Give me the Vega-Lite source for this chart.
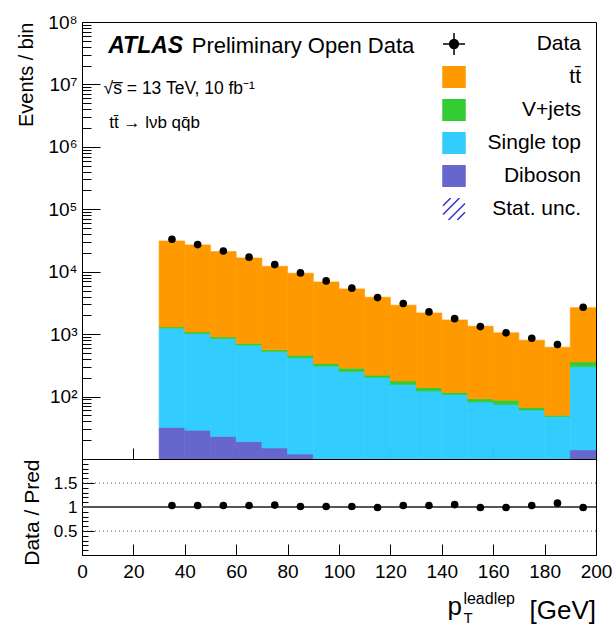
{
  "$schema": "https://vega.github.io/schema/vega-lite/v6.json",
  "background": "white",
  "padding": {"left": 16, "top": 12, "right": 10, "bottom": 0},
  "spacing": 0,
  "bounds": "flush",
  "config": {
    "font": "Liberation Sans",
    "view": {"stroke": "black", "strokeWidth": 1},
    "axis": {
      "grid": false,
      "domain": false,
      "tickColor": "black",
      "tickWidth": 1,
      "labelColor": "black",
      "labelFont": "Liberation Sans",
      "titleFont": "Liberation Sans",
      "titleFontWeight": "normal",
      "titleColor": "black",
      "labelOverlap": false,
      "labelFlush": false
    }
  },
  "datasets": {
    "bins": [
      {"lo": 30, "hi": 40, "pt": 35, "diboson": 32, "singletop": 1213, "vjets": 61, "ttbar": 29800, "data": 33100, "ratio": 1.03},
      {"lo": 40, "hi": 50, "pt": 45, "diboson": 29, "singletop": 992, "vjets": 66, "ttbar": 25800, "data": 27200, "ratio": 1.03},
      {"lo": 50, "hi": 60, "pt": 55, "diboson": 23, "singletop": 826, "vjets": 54, "ttbar": 20100, "data": 21500, "ratio": 1.03},
      {"lo": 60, "hi": 70, "pt": 65, "diboson": 19, "singletop": 646, "vjets": 41, "ttbar": 15900, "data": 17100, "ratio": 1.03},
      {"lo": 70, "hi": 80, "pt": 75, "diboson": 15, "singletop": 511, "vjets": 34, "ttbar": 11640, "data": 13000, "ratio": 1.04},
      {"lo": 80, "hi": 90, "pt": 85, "diboson": 12, "singletop": 405, "vjets": 43, "ttbar": 9000, "data": 9570, "ratio": 1.01},
      {"lo": 90, "hi": 100, "pt": 95, "diboson": 8, "singletop": 299, "vjets": 30, "ttbar": 6530, "data": 7130, "ratio": 1.01},
      {"lo": 100, "hi": 110, "pt": 105, "diboson": 7, "singletop": 244, "vjets": 34, "ttbar": 5025, "data": 5450, "ratio": 1.01},
      {"lo": 110, "hi": 120, "pt": 115, "diboson": 6, "singletop": 197, "vjets": 17, "ttbar": 3690, "data": 3850, "ratio": 0.99},
      {"lo": 120, "hi": 130, "pt": 125, "diboson": 5, "singletop": 151, "vjets": 22, "ttbar": 2730, "data": 3090, "ratio": 1.03},
      {"lo": 130, "hi": 140, "pt": 135, "diboson": 4, "singletop": 119, "vjets": 16, "ttbar": 2050, "data": 2270, "ratio": 1.03},
      {"lo": 140, "hi": 150, "pt": 145, "diboson": 4, "singletop": 104, "vjets": 8, "ttbar": 1574, "data": 1770, "ratio": 1.05},
      {"lo": 150, "hi": 160, "pt": 155, "diboson": 3, "singletop": 79, "vjets": 10, "ttbar": 1248, "data": 1320, "ratio": 0.99},
      {"lo": 160, "hi": 170, "pt": 165, "diboson": 3, "singletop": 71.5, "vjets": 13, "ttbar": 963, "data": 1050, "ratio": 0.99},
      {"lo": 170, "hi": 180, "pt": 175, "diboson": 3, "singletop": 58, "vjets": 5.5, "ttbar": 733, "data": 861, "ratio": 1.03},
      {"lo": 180, "hi": 190, "pt": 185, "diboson": 2, "singletop": 46, "vjets": 2, "ttbar": 568, "data": 681, "ratio": 1.08},
      {"lo": 190, "hi": 200, "pt": 195, "diboson": 14, "singletop": 288, "vjets": 57, "ttbar": 2300, "data": 2690, "ratio": 0.99}
    ]
  },
  "vconcat": [
    {
      "width": 514,
      "height": 437,
      "data": {"name": "bins"},
      "layer": [
        {
          "transform": [
            {"fold": ["diboson", "singletop", "vjets", "ttbar"], "as": ["process", "events"]},
            {"stack": "events", "groupby": ["lo"], "as": ["ylo", "yhi"]}
          ],
          "mark": {"type": "rect", "clip": true, "strokeWidth": 0.6},
          "encoding": {
            "x": {
              "field": "lo", "type": "quantitative",
              "scale": {"domain": [0, 200], "nice": false, "zero": false},
              "axis": {
                "values": [0,5,10,15,20,25,30,35,40,45,50,55,60,65,70,75,80,85,90,95,100,105,110,115,120,125,130,135,140,145,150,155,160,165,170,175,180,185,190,195,200],
                "labels": false,
                "title": null,
                "tickSize": {"condition": {"test": "datum.value % 20 == 0", "value": -11}, "value": -6}
              }
            },
            "x2": {"field": "hi"},
            "y": {
              "field": "yhi", "type": "quantitative",
              "scale": {"type": "log", "domain": [10, 100000000], "nice": false, "clamp": true},
              "axis": {
                "values": [20,30,40,50,60,70,80,90,100,200,300,400,500,600,700,800,900,1000,2000,3000,4000,5000,6000,7000,8000,9000,10000,20000,30000,40000,50000,60000,70000,80000,90000,100000,200000,300000,400000,500000,600000,700000,800000,900000,1000000,2000000,3000000,4000000,5000000,6000000,7000000,8000000,9000000,10000000,20000000,30000000,40000000,50000000,60000000,70000000,80000000,90000000,100000000],
                "labelExpr": "abs(log(datum.value)/LN10 - round(log(datum.value)/LN10)) < 0.001 ? '10' + ['⁰','¹','²','³','⁴','⁵','⁶','⁷','⁸','⁹'][round(log(datum.value)/LN10)] : ''",
                "tickSize": {"condition": {"test": "abs(log(datum.value)/LN10 - round(log(datum.value)/LN10)) < 0.001", "value": -18}, "value": -9},
                "labelPadding": 23,
                "labelFontSize": 19,
                "title": "Events / bin",
                "titleFontSize": 20,
                "titleAnchor": "end",
                "titlePadding": 11
              }
            },
            "y2": {"field": "ylo"},
            "color": {
              "field": "process", "type": "nominal",
              "scale": {
                "domain": ["data", "ttbar", "vjets", "singletop", "diboson", "statunc"],
                "range": ["#000000", "#ff9900", "#33cc33", "#33ccff", "#6666cc", "#3333cc"]
              },
              "legend": {
                "orient": "none",
                "legendX": 360,
                "legendY": 11,
                "title": null,
                "padding": 0,
                "rowPadding": 11,
                "clipHeight": 22,
                "symbolSize": 484,
                "labelFont": "Liberation Sans",
                "labelFontSize": 21,
                "labelColor": "black",
                "labelAlign": "right",
                "labelOffset": 115,
                "labelLimit": 300,
                "labelExpr": "datum.value == 'data' ? 'Data' : datum.value == 'ttbar' ? 'tt̄' : datum.value == 'vjets' ? 'V+jets' : datum.value == 'singletop' ? 'Single top' : datum.value == 'diboson' ? 'Diboson' : 'Stat. unc.'",
                "encode": {
                  "symbols": {
                    "update": {
                      "shape": {"signal": "datum.value == 'data' ? 'M-1,0H1M0,-1V1M-0.4,0A0.4,0.4 0 1,1 0.4,0A0.4,0.4 0 1,1 -0.4,0Z' : datum.value == 'statunc' ? 'M-1,-0.3L-0.3,-1M-1,0.5L0.5,-1M-0.5,1L1,-0.5M0.3,1L1,0.3' : 'square'"},
                      "fill": {"signal": "datum.value == 'statunc' ? 'transparent' : scale('color', datum.value)"},
                      "stroke": {"signal": "datum.value == 'data' ? 'black' : datum.value == 'statunc' ? '#3333cc' : 'transparent'"},
                      "strokeWidth": {"value": 1.5},
                      "opacity": {"value": 1}
                    }
                  }
                }
              }
            },
            "stroke": {
              "field": "process", "type": "nominal",
              "scale": {
                "domain": ["data", "ttbar", "vjets", "singletop", "diboson", "statunc"],
                "range": ["#000000", "#ff9900", "#33cc33", "#33ccff", "#6666cc", "#3333cc"]
              },
              "legend": null
            }
          }
        },
        {
          "mark": {"type": "point", "filled": true, "color": "black", "opacity": 1, "size": 58},
          "encoding": {
            "x": {"field": "pt", "type": "quantitative"},
            "y": {"field": "data", "type": "quantitative"}
          }
        },
        {
          "data": {"values": [{"note": "ATLAS"}]},
          "mark": {"type": "text", "align": "left", "baseline": "alphabetic", "font": "Liberation Sans", "fontSize": 23, "fontStyle": "italic", "fontWeight": "bold", "color": "black"},
          "encoding": {"x": {"datum": 10.2}, "y": {"datum": 32000000}, "text": {"field": "note"}}
        },
        {
          "data": {"values": [{"note": "Preliminary Open Data"}]},
          "mark": {"type": "text", "align": "left", "baseline": "alphabetic", "font": "Liberation Sans", "fontSize": 22, "color": "black"},
          "encoding": {"x": {"datum": 42.7}, "y": {"datum": 32000000}, "text": {"field": "note"}}
        },
        {
          "data": {"values": [{"note": "√s̅ = 13 TeV, 10 fb⁻¹"}]},
          "mark": {"type": "text", "align": "left", "baseline": "alphabetic", "font": "Liberation Sans", "fontSize": 17.5, "color": "black"},
          "encoding": {"x": {"datum": 8.4}, "y": {"datum": 7100000}, "text": {"field": "note"}}
        },
        {
          "data": {"values": [{"note": "tt̄ → lνb qq̄b"}]},
          "mark": {"type": "text", "align": "left", "baseline": "alphabetic", "font": "Liberation Sans", "fontSize": 17, "color": "black"},
          "encoding": {"x": {"datum": 10.6}, "y": {"datum": 2030000}, "text": {"field": "note"}}
        }
      ]
    },
    {
      "width": 514,
      "height": 96,
      "data": {"name": "bins"},
      "encoding": {
        "y": {
          "type": "quantitative",
          "scale": {"domain": [0, 2], "nice": false},
          "axis": {
            "values": [0.1,0.2,0.3,0.4,0.5,0.6,0.7,0.8,0.9,1,1.1,1.2,1.3,1.4,1.5,1.6,1.7,1.8,1.9],
            "format": "~g",
            "labelExpr": "indexof(['0.5', '1', '1.5'], datum.label) >= 0 ? datum.label : ''",
            "tickSize": {"condition": {"test": "indexof(['0.5', '1', '1.5'], datum.label) >= 0", "value": -12}, "value": -6},
            "labelPadding": 17,
            "labelFontSize": 17,
            "title": "Data / Pred",
            "titleFontSize": 21,
            "titleAnchor": "end",
            "titlePadding": 11
          }
        }
      },
      "layer": [
        {
          "data": {"values": [{"ref": 0.5}, {"ref": 1.5}]},
          "mark": {"type": "rule", "color": "#555555", "strokeDash": [1, 3], "strokeWidth": 1},
          "encoding": {"y": {"field": "ref", "type": "quantitative"}}
        },
        {
          "data": {"values": [{"ref": 1}]},
          "mark": {"type": "rule", "color": "#555555", "strokeWidth": 2},
          "encoding": {"y": {"field": "ref", "type": "quantitative"}}
        },
        {
          "mark": {"type": "point", "filled": true, "color": "black", "opacity": 1, "size": 58},
          "encoding": {
            "x": {
              "field": "pt", "type": "quantitative",
              "scale": {"domain": [0, 200], "nice": false, "zero": false},
              "axis": {
                "values": [0,5,10,15,20,25,30,35,40,45,50,55,60,65,70,75,80,85,90,95,100,105,110,115,120,125,130,135,140,145,150,155,160,165,170,175,180,185,190,195,200],
                "labelExpr": "datum.value % 20 == 0 ? datum.label : ''",
                "labelFontSize": 19,
                "labelPadding": 18,
                "title": null,
                "tickSize": {"condition": {"test": "datum.value % 20 == 0", "value": -11}, "value": -6}
              }
            },
            "y": {"field": "ratio", "type": "quantitative"}
          }
        },
        {
          "data": {"values": [{"part": "p"}]},
          "mark": {"type": "text", "align": "left", "baseline": "alphabetic", "font": "Liberation Sans", "fontSize": 26, "color": "black"},
          "encoding": {"x": {"datum": 142.2}, "y": {"datum": -1.25}, "text": {"field": "part"}}
        },
        {
          "data": {"values": [{"part": "T"}]},
          "mark": {"type": "text", "align": "left", "baseline": "alphabetic", "font": "Liberation Sans", "fontSize": 15, "color": "black"},
          "encoding": {"x": {"datum": 148.4}, "y": {"datum": -1.42}, "text": {"field": "part"}}
        },
        {
          "data": {"values": [{"part": "leadlep"}]},
          "mark": {"type": "text", "align": "left", "baseline": "alphabetic", "font": "Liberation Sans", "fontSize": 16, "color": "black"},
          "encoding": {"x": {"datum": 148.4}, "y": {"datum": -1.02}, "text": {"field": "part"}}
        },
        {
          "data": {"values": [{"part": "[GeV]"}]},
          "mark": {"type": "text", "align": "right", "baseline": "alphabetic", "font": "Liberation Sans", "fontSize": 26, "color": "black"},
          "encoding": {"x": {"datum": 200}, "y": {"datum": -1.33}, "text": {"field": "part"}}
        }
      ]
    }
  ]
}
